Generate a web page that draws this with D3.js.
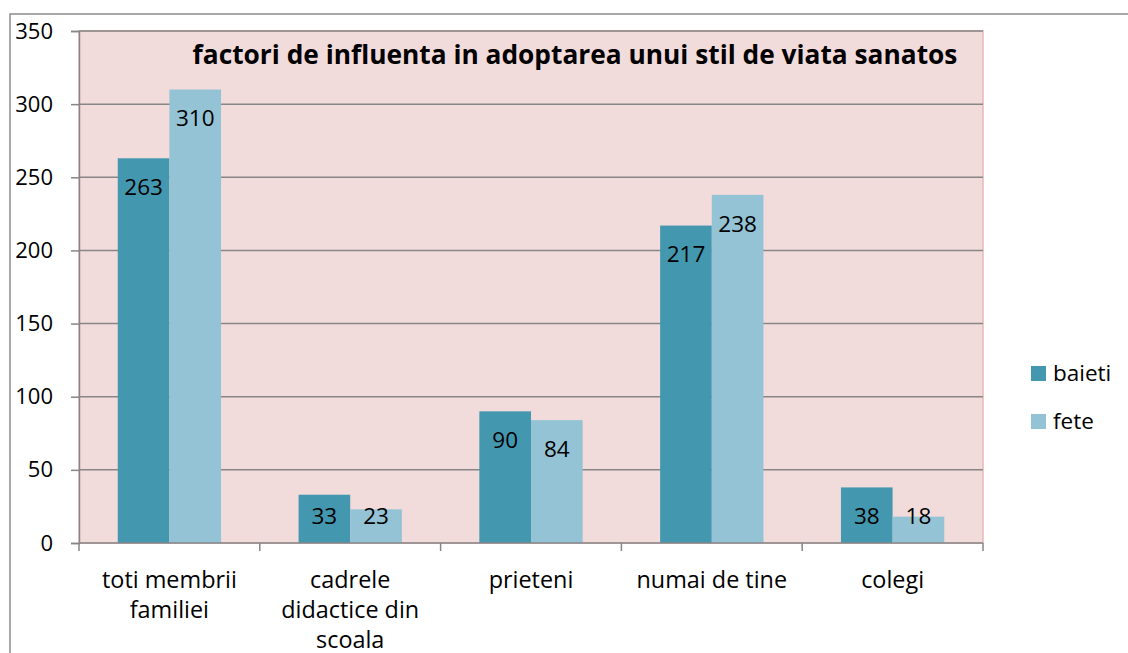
<!DOCTYPE html>
<html>
<head>
<meta charset="utf-8">
<script src="https://cdn.jsdelivr.net/npm/d3@7"></script>
<style>
  body { margin: 0; background: #fff; }
  svg { display: block; font-family: "Open Sans", "Noto Sans", sans-serif; }
</style>
</head>
<body>
<div id="chart"></div>
<script>
const categories = [["toti membrii", "familiei"], ["cadrele", "didactice din", "scoala"], ["prieteni"], ["numai de tine"], ["colegi"]];
const seriesNames = ["baieti", "fete"];
const baieti = [263, 33, 90, 217, 38];
const fete = [310, 23, 84, 238, 18];
const yTicks = [0, 50, 100, 150, 200, 250, 300, 350];
const title = "factori de influenta in adoptarea unui stil de viata sanatos";

const colors = ["#4398B0", "#93C3D5"];
const W = 1128, H = 653;
const plot = { left: 79, top: 31, right: 983, bottom: 543 };
const fontSize = 22.5;

const svg = d3.select("#chart").append("svg")
    .attr("width", W)
    .attr("height", H);

// outer chart border
svg.append("rect")
    .attr("x", 10).attr("y", 14)
    .attr("width", W + 10).attr("height", H + 10)
    .attr("fill", "#fff")
    .attr("stroke", "#8c8c8c")
    .attr("stroke-width", 1.5);

// plot area
svg.append("rect")
    .attr("x", plot.left).attr("y", plot.top)
    .attr("width", plot.right - plot.left).attr("height", plot.bottom - plot.top)
    .attr("fill", "#F2DCDB")
    .attr("stroke", "#E6B9B8")
    .attr("stroke-width", 1.5);

let idx = d3.range(categories.length);
let x = d3.scaleBand()
    .domain(idx)
    .range([plot.left, plot.right]);
let inner = d3.scaleBand()
    .domain([0, 1])
    .range([0, x.bandwidth()])
    .paddingInner(0)
    .paddingOuter(0.75);
let y = d3.scaleLinear()
    .domain([0, 350])
    .range([plot.bottom, plot.top]);

// gridlines
svg.append("g")
    .selectAll("line")
    .data(yTicks.filter(d => d > 0))
    .enter().append("line")
    .attr("x1", plot.left).attr("x2", plot.right)
    .attr("y1", d => y(d)).attr("y2", d => y(d))
    .attr("stroke", "#868686")
    .attr("stroke-width", 1.5);

// bars
let data = [];
idx.forEach(function (i) {
    data.push({ i: i, s: 0, v: baieti[i] });
    data.push({ i: i, s: 1, v: fete[i] });
});

svg.append("g")
    .selectAll("rect")
    .data(data)
    .enter().append("rect")
    .attr("x", d => x(d.i) + inner(d.s))
    .attr("width", inner.bandwidth())
    .attr("y", d => y(d.v))
    .attr("height", d => y(0) - y(d.v))
    .attr("fill", d => colors[d.s]);

// value labels
svg.append("g")
    .selectAll("text")
    .data(data)
    .enter().append("text")
    .attr("x", d => x(d.i) + inner(d.s) + inner.bandwidth() / 2)
    .attr("y", d => Math.min(y(d.v) + 29, y(0) - 27))
    .attr("dy", "0.35em")
    .attr("text-anchor", "middle")
    .attr("font-size", fontSize)
    .attr("fill", "#000")
    .text(d => d.v);

// y axis
let yAxis = d3.axisLeft(y).tickValues(yTicks).tickSize(8).tickPadding(18);
let gy = svg.append("g")
    .attr("transform", "translate(" + plot.left + ",0)")
    .call(yAxis);
gy.select(".domain").attr("stroke", "#868686").attr("stroke-width", 1.5);
gy.selectAll(".tick line").attr("stroke", "#868686").attr("stroke-width", 1.5);
gy.selectAll(".tick text")
    .attr("font-size", 22)
    .attr("font-family", "'Open Sans', 'Noto Sans', sans-serif")
    .attr("fill", "#000");

// x axis line and ticks
svg.append("line")
    .attr("x1", plot.left).attr("x2", plot.right)
    .attr("y1", plot.bottom).attr("y2", plot.bottom)
    .attr("stroke", "#868686").attr("stroke-width", 1.5);

let bounds = idx.map(i => x(i)).concat([x(idx.length - 1) + x.bandwidth()]);
svg.append("g")
    .selectAll("line")
    .data(bounds)
    .enter().append("line")
    .attr("x1", d => d).attr("x2", d => d)
    .attr("y1", plot.bottom).attr("y2", plot.bottom + 8)
    .attr("stroke", "#868686").attr("stroke-width", 1.5);

// category labels
let cat = svg.append("g")
    .selectAll("text")
    .data(idx)
    .enter().append("text")
    .attr("text-anchor", "middle")
    .attr("font-size", 23.4)
    .attr("fill", "#000");
cat.each(function (i) {
    let t = d3.select(this);
    categories[i].forEach(function (line, k) {
        t.append("tspan")
            .attr("x", x(i) + x.bandwidth() / 2)
            .attr("y", 580 + k * 30)
            .attr("dy", "0.35em")
            .text(line);
    });
});

// title
svg.append("text")
    .attr("x", 575)
    .attr("y", 55)
    .attr("dy", "0.35em")
    .attr("text-anchor", "middle")
    .attr("font-size", 26.3)
    .attr("font-weight", "bold")
    .attr("fill", "#000")
    .text(title);

// legend
let legend = svg.append("g")
    .selectAll("g")
    .data(seriesNames)
    .enter().append("g")
    .attr("transform", (d, i) => "translate(1031," + (366 + i * 48) + ")");
legend.append("rect")
    .attr("width", 15).attr("height", 15)
    .attr("fill", (d, i) => colors[i]);
legend.append("text")
    .attr("x", 22).attr("y", 7.5)
    .attr("dy", "0.35em")
    .attr("font-size", fontSize)
    .attr("fill", "#000")
    .text(d => d);
</script>
</body>
</html>
